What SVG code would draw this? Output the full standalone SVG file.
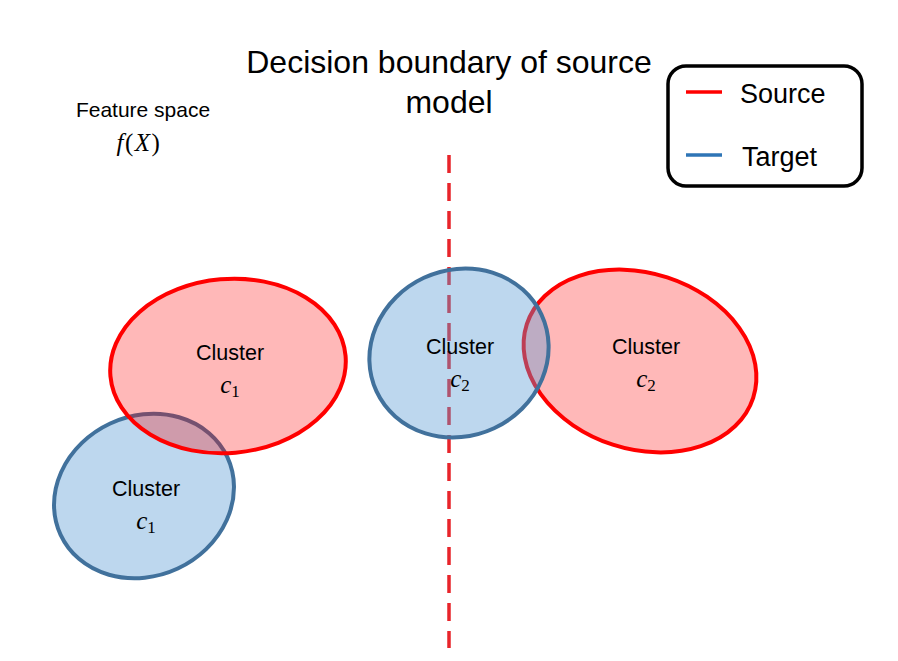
<svg xmlns="http://www.w3.org/2000/svg" width="898" height="661" viewBox="0 0 898 661">
<style>
.red{fill:#ff0000;fill-opacity:0.28;stroke:#ff0000;stroke-width:4}
.blue{fill:#5b9bd5;fill-opacity:0.4;stroke:#41719c;stroke-width:4}
.lbl{font-family:"Liberation Sans",Arial,sans-serif;font-size:21.5px;fill:#000;text-anchor:middle}
.math{font-family:"Liberation Serif","DejaVu Serif",serif;font-size:25px;fill:#000;text-anchor:middle}
.title{font-family:"Liberation Sans",Arial,sans-serif;font-size:32px;fill:#000;text-anchor:middle}
.leg{font-family:"Liberation Sans",Arial,sans-serif;font-size:27px;fill:#000}
</style>
<rect width="898" height="661" fill="#ffffff"/>
<g id="title">
<text class="title" x="449" y="73">Decision boundary of source</text>
<text class="title" x="449" y="113">model</text>
</g>
<g id="feature-space">
<text x="143" y="117" font-family="Liberation Sans,Arial,sans-serif" font-size="21" text-anchor="middle">Feature space</text>
<text class="math" x="139" y="151" font-size="27" letter-spacing="1.5"><tspan font-style="italic">f</tspan>(<tspan font-style="italic">X</tspan>)</text>
</g>
<g id="connectors">
<line x1="449" y1="155" x2="449" y2="648" stroke="#e8242a" stroke-width="3.5" stroke-dasharray="18,10"/>
</g>
<g id="target-c1">
<ellipse class="blue" cx="144" cy="496" rx="92" ry="80" transform="rotate(-25 144 496)"/>
</g>
<g id="source-c1">
<ellipse class="red" cx="228" cy="366" rx="118" ry="87" transform="rotate(-5 228 366)"/>
</g>
<g id="source-c2">
<ellipse class="red" cx="640" cy="361" rx="119" ry="88" transform="rotate(18 640 361)"/>
</g>
<g id="target-c2">
<ellipse class="blue" cx="459" cy="353" rx="91" ry="83" transform="rotate(-25 459 353)"/>
</g>
<g id="labels">
<text class="lbl" x="230" y="360">Cluster</text>
<text class="math" x="230" y="393"><tspan font-style="italic">c</tspan><tspan font-size="17" dy="4">1</tspan></text>
<text class="lbl" x="146" y="496">Cluster</text>
<text class="math" x="146" y="529"><tspan font-style="italic">c</tspan><tspan font-size="17" dy="4">1</tspan></text>
<text class="lbl" x="460" y="354">Cluster</text>
<text class="math" x="460" y="387"><tspan font-style="italic">c</tspan><tspan font-size="17" dy="4">2</tspan></text>
<text class="lbl" x="646" y="354">Cluster</text>
<text class="math" x="646" y="387"><tspan font-style="italic">c</tspan><tspan font-size="17" dy="4">2</tspan></text>
</g>
<g id="legend">
<rect x="668" y="66" width="194" height="120" rx="18" ry="18" fill="#ffffff" stroke="#000000" stroke-width="3.5"/>
<line x1="686" y1="92" x2="722" y2="92" stroke="#ff0000" stroke-width="3.5"/>
<text class="leg" x="740" y="103">Source</text>
<line x1="686" y1="155" x2="722" y2="155" stroke="#2e75b6" stroke-width="3.5"/>
<text class="leg" x="742" y="166">Target</text>
</g>
</svg>
